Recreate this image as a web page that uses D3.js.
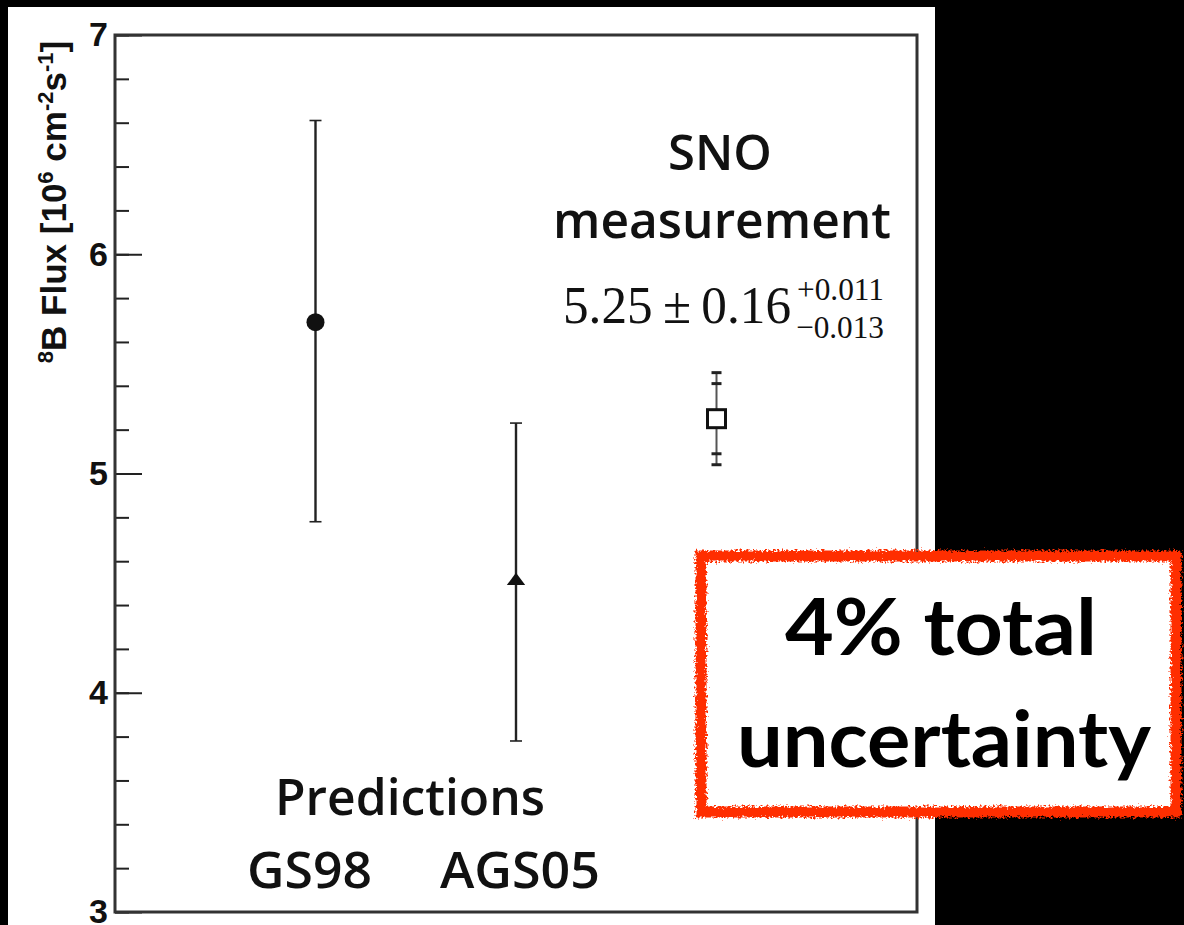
<!DOCTYPE html>
<html>
<head>
<meta charset="utf-8">
<script src="https://cdn.jsdelivr.net/npm/d3@7"></script>
<style>
  html, body { margin: 0; padding: 0; background: #000; }
  svg { display: block; }
</style>
</head>
<body>
<svg id="chart" width="1184" height="925"></svg>
<script>
// 8B solar neutrino flux: model predictions vs. SNO measurement (units of 1e6 cm^-2 s^-1)
const categories   = ["GS98", "AGS05", "SNO"];
const categoryPos  = [1, 2, 3];
const fluxValues   = [5.69, 4.51, 5.25];
const errUp        = [0.92, 0.72, 0.16];
const errDown      = [0.91, 0.73, 0.16];
const markerKinds  = ["circle", "triangle", "square"];
// SNO outer (total) error bar
const snoTotalUp   = 0.21;
const snoTotalDown = 0.21;
const majorTicks   = [3, 4, 5, 6, 7];
const minorTicks   = d3.range(3, 7.001, 0.2).map(v => +v.toFixed(1));

const svg = d3.select("#chart");

// white page behind the plot
svg.append("rect").attr("x", 8).attr("y", 7).attr("width", 927).attr("height", 918).attr("fill", "#fff");

const plotL = 115, plotR = 917, plotT = 35, plotB = 912;
const y = d3.scaleLinear().domain([3, 7]).range([plotB, plotT]);
const x = d3.scaleLinear().domain([0, 4]).range([plotL, plotR]);

const ink = "#222";

// minor ticks
const yMinor = d3.axisRight(y).tickValues(minorTicks).tickSize(14).tickFormat("");
svg.append("g").attr("transform", `translate(${plotL},0)`).call(yMinor)
  .call(g => g.select(".domain").remove())
  .call(g => g.selectAll("line").attr("stroke", ink).attr("stroke-width", 2));

// major ticks (drawn inward)
const yMajor = d3.axisRight(y).tickValues(majorTicks).tickSize(27).tickFormat("");
svg.append("g").attr("transform", `translate(${plotL},0)`).call(yMajor)
  .call(g => g.select(".domain").remove())
  .call(g => g.selectAll("line").attr("stroke", ink).attr("stroke-width", 2));

// tick labels
const yLabels = d3.axisLeft(y).tickValues(majorTicks).tickSize(0).tickPadding(7).tickFormat(d3.format("d"));
svg.append("g").attr("transform", `translate(${plotL},0)`).call(yLabels)
  .call(g => g.select(".domain").remove())
  .call(g => g.selectAll("text")
    .attr("font-family", "'Liberation Sans', Arial, sans-serif")
    .attr("font-weight", "bold")
    .attr("font-size", 34)
    .attr("fill", "#111"));

// frame
svg.append("rect").attr("x", plotL).attr("y", plotT).attr("width", plotR - plotL).attr("height", plotB - plotT)
  .attr("fill", "none").attr("stroke", "#333").attr("stroke-width", 3);

// y-axis title
const title = svg.append("text")
  .attr("transform", `translate(66,${(plotT + 369) / 2}) rotate(-90)`)
  .attr("text-anchor", "middle")
  .attr("font-family", "'Liberation Sans', Arial, sans-serif")
  .attr("font-weight", "bold")
  .attr("font-size", 35)
  .attr("fill", "#111");
title.append("tspan").attr("font-size", 22).attr("dy", -13).text("8");
title.append("tspan").attr("dy", 13).text("B Flux [10");
title.append("tspan").attr("font-size", 22).attr("dy", -13).text("6");
title.append("tspan").attr("dy", 13).text(" cm");
title.append("tspan").attr("font-size", 22).attr("dy", -13).text("-2");
title.append("tspan").attr("dy", 13).text("s");
title.append("tspan").attr("font-size", 22).attr("dy", -13).text("-1");
title.append("tspan").attr("dy", 13).text("]");

const points = categories.map((c, i) => ({
  name: c, pos: categoryPos[i], v: fluxValues[i], up: errUp[i], dn: errDown[i], kind: markerKinds[i]
}));

const bars = svg.append("g");
// error bars
points.forEach(p => {
  const cx = x(p.pos);
  const isSno = p.kind === "square";
  const hi = isSno ? p.v + snoTotalUp : p.v + p.up;
  const lo = isSno ? p.v - snoTotalDown : p.v - p.dn;
  bars.append("line").attr("x1", cx).attr("x2", cx).attr("y1", y(hi)).attr("y2", y(lo))
    .attr("stroke", isSno ? "#555" : ink).attr("stroke-width", isSno ? 2 : 2.4);
  const capW = isSno ? 5 : 6;
  [hi, lo].forEach(v => bars.append("line")
    .attr("x1", cx - capW).attr("x2", cx + capW).attr("y1", y(v)).attr("y2", y(v))
    .attr("stroke", ink).attr("stroke-width", isSno ? 3 : 1.6));
  if (isSno) {
    [p.v + p.up, p.v - p.dn].forEach(v => bars.append("line")
      .attr("x1", cx - capW).attr("x2", cx + capW).attr("y1", y(v)).attr("y2", y(v))
      .attr("stroke", ink).attr("stroke-width", 3));
  }
});

// markers
points.forEach(p => {
  const cx = x(p.pos), cy = y(p.v);
  if (p.kind === "circle") {
    svg.append("circle").attr("cx", cx).attr("cy", cy).attr("r", 9).attr("fill", "#111");
  } else if (p.kind === "triangle") {
    svg.append("path").attr("transform", `translate(${cx},${cy}) scale(1.1,0.85)`)
      .attr("d", d3.symbol(d3.symbolTriangle).size(120)()).attr("fill", "#111");
  } else {
    svg.append("rect").attr("x", cx - 9).attr("y", cy - 9).attr("width", 18).attr("height", 18)
      .attr("fill", "#fff").attr("stroke", "#111").attr("stroke-width", 3);
  }
});

// annotations
const sans = "'Open Sans', 'Noto Sans', sans-serif";
svg.append("text").attr("x", 720).attr("y", 170).attr("text-anchor", "middle")
  .attr("font-family", sans).attr("font-weight", 600).attr("font-size", 49).attr("fill", "#111").text("SNO");
svg.append("text").attr("x", 722).attr("y", 238).attr("text-anchor", "middle")
  .attr("font-family", sans).attr("font-weight", 600).attr("font-size", 50).attr("fill", "#111")
  .attr("textLength", 338).attr("lengthAdjust", "spacingAndGlyphs").text("measurement");

const serif = "'Liberation Serif', 'Times New Roman', serif";
svg.append("text").attr("x", 563).attr("y", 323)
  .attr("font-family", serif).attr("font-size", 52).attr("fill", "#111")
  .attr("textLength", 228).attr("lengthAdjust", "spacingAndGlyphs")
  .text(`${fluxValues[2].toFixed(2)}\u2009\u00B1\u20090.16`);
svg.append("text").attr("x", 797).attr("y", 300)
  .attr("font-family", serif).attr("font-size", 32).attr("fill", "#111")
  .attr("textLength", 87).attr("lengthAdjust", "spacingAndGlyphs").text("+0.011");
svg.append("text").attr("x", 796).attr("y", 338)
  .attr("font-family", serif).attr("font-size", 32).attr("fill", "#111")
  .attr("textLength", 88).attr("lengthAdjust", "spacingAndGlyphs").text("\u22120.013");

svg.append("text").attr("x", 410).attr("y", 815).attr("text-anchor", "middle")
  .attr("font-family", sans).attr("font-weight", 600).attr("font-size", 51).attr("fill", "#111")
  .attr("textLength", 270).attr("lengthAdjust", "spacingAndGlyphs").text("Predictions");
[0, 1].forEach(i => svg.append("text").attr("x", x(categoryPos[i]) + (i === 0 ? -6 : 4)).attr("y", 888)
  .attr("text-anchor", "middle").attr("font-family", sans).attr("font-weight", 600).attr("font-size", 51).attr("fill", "#111")
  .attr("textLength", i === 0 ? 125 : 160).attr("lengthAdjust", "spacingAndGlyphs")
  .text(categories[i]));

// callout box with a rough, hand-drawn red border
const defs = svg.append("defs");
const f = defs.append("filter").attr("id", "rough").attr("x", "-5%").attr("y", "-10%").attr("width", "110%").attr("height", "120%");
f.append("feTurbulence").attr("type", "fractalNoise").attr("baseFrequency", 0.45).attr("numOctaves", 3).attr("seed", 3).attr("result", "noise");
f.append("feDisplacementMap").attr("in", "SourceGraphic").attr("in2", "noise").attr("scale", 8)
  .attr("xChannelSelector", "R").attr("yChannelSelector", "G");

svg.append("rect").attr("x", 700).attr("y", 555).attr("width", 477).attr("height", 258).attr("fill", "#fff");
svg.append("rect").attr("x", 701).attr("y", 556).attr("width", 475).attr("height", 256)
  .attr("fill", "none").attr("stroke", "#ff2d00").attr("stroke-width", 11).attr("filter", "url(#rough)");

const calloutFont = "Lato, 'Noto Sans', sans-serif";
svg.append("text").attr("x", 941).attr("y", 655).attr("text-anchor", "middle")
  .attr("font-family", calloutFont).attr("font-weight", 700).attr("font-size", 78).attr("fill", "#000")
  .attr("textLength", 312).attr("lengthAdjust", "spacingAndGlyphs").text("4% total");
svg.append("text").attr("x", 944).attr("y", 767).attr("text-anchor", "middle")
  .attr("font-family", calloutFont).attr("font-weight", 700).attr("font-size", 78).attr("fill", "#000")
  .attr("textLength", 414).attr("lengthAdjust", "spacingAndGlyphs").text("uncertainty");
</script>
</body>
</html>
